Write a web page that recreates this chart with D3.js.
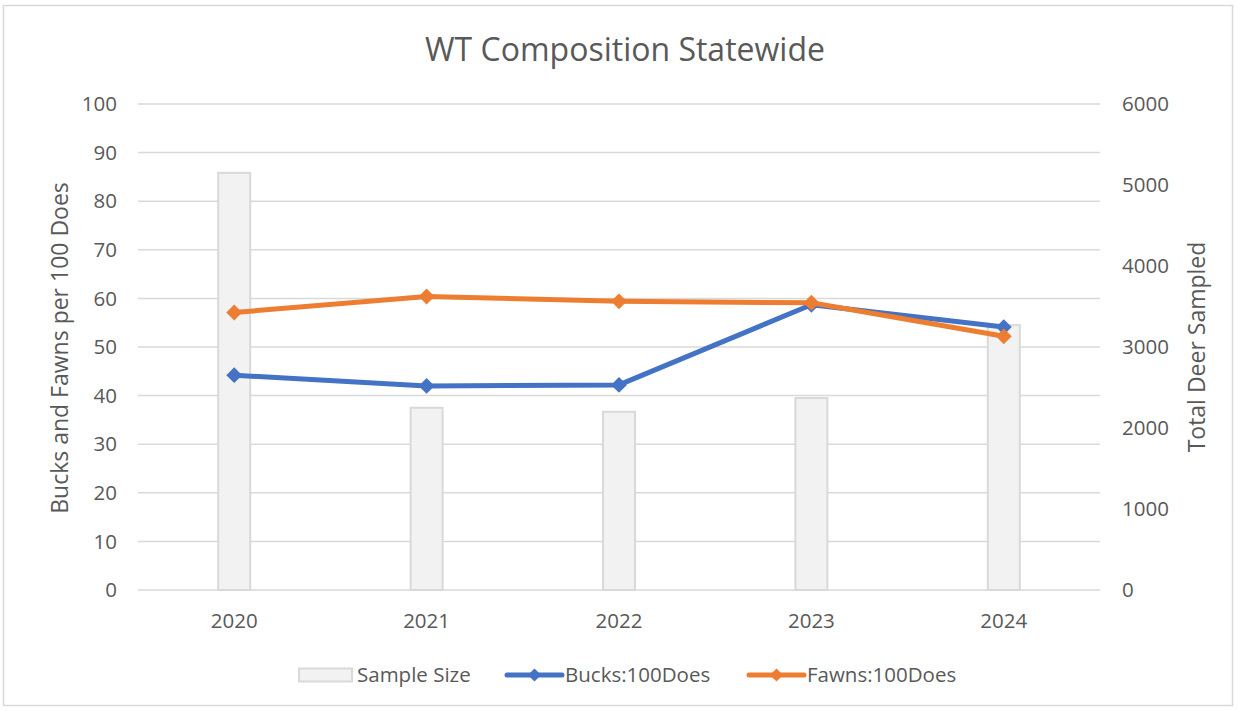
<!DOCTYPE html>
<html>
<head>
<meta charset="utf-8">
<script src="https://cdn.jsdelivr.net/npm/d3@7"></script>
<style>
  body { margin: 0; background: #fff; }
  text { font-family: "Open Sans", "Noto Sans", sans-serif; fill: #595959; }
</style>
</head>
<body>
<script>
const years = ["2020", "2021", "2022", "2023", "2024"]
const sampleSize = [5150, 2250, 2200, 2370, 3270]
const bucks = [44.2, 42.0, 42.2, 58.7, 54.1]
const fawns = [57.1, 60.4, 59.4, 59.1, 52.2]
const leftTicks = [0, 10, 20, 30, 40, 50, 60, 70, 80, 90, 100]
const rightTicks = [0, 1000, 2000, 3000, 4000, 5000, 6000]

const dims = { w: 1237, h: 711, pl: 138, pr: 1100, pt: 104, pb: 590 }
const tickFont = 20.5

const svg = d3.select("body").append("svg")
  .attr("width", dims.w)
  .attr("height", dims.h)

// chart frame
svg.append("rect")
  .attr("x", 3.5).attr("y", 5.5)
  .attr("width", 1229).attr("height", 700)
  .attr("fill", "#fff")
  .attr("stroke", "#d9d9d9")
  .attr("stroke-width", 1.5)

const xScale = d3.scaleBand().domain(years).range([dims.pl, dims.pr])
const yLeft = d3.scaleLinear().domain([0, 100]).range([dims.pb, dims.pt])
const yRight = d3.scaleLinear().domain([0, 6000]).range([dims.pb, dims.pt])

// gridlines
svg.append("g")
  .selectAll("line")
  .data(leftTicks)
  .enter()
  .append("line")
  .attr("x1", dims.pl).attr("x2", dims.pr)
  .attr("y1", d => yLeft(d)).attr("y2", d => yLeft(d))
  .attr("stroke", "#d9d9d9")
  .attr("stroke-width", 1.5)

// left axis labels
svg.append("g")
  .selectAll("text")
  .data(leftTicks)
  .enter()
  .append("text")
  .attr("x", 117)
  .attr("y", d => yLeft(d))
  .attr("dy", "0.35em")
  .attr("text-anchor", "end")
  .attr("font-size", tickFont)
  .text(d => d)

// right axis labels
svg.append("g")
  .selectAll("text")
  .data(rightTicks)
  .enter()
  .append("text")
  .attr("x", 1122)
  .attr("y", d => yRight(d))
  .attr("dy", "0.35em")
  .attr("font-size", tickFont)
  .text(d => d)

// x labels
svg.append("g")
  .selectAll("text")
  .data(years)
  .enter()
  .append("text")
  .attr("x", d => xScale(d) + xScale.bandwidth() / 2)
  .attr("y", 621)
  .attr("dy", "0.35em")
  .attr("text-anchor", "middle")
  .attr("font-size", tickFont)
  .text(d => d)

// bars (right axis)
const barW = 32
svg.append("g")
  .selectAll("rect")
  .data(years)
  .enter()
  .append("rect")
  .attr("x", d => xScale(d) + xScale.bandwidth() / 2 - barW / 2)
  .attr("y", (d, i) => yRight(sampleSize[i]))
  .attr("width", barW)
  .attr("height", (d, i) => dims.pb - yRight(sampleSize[i]))
  .attr("fill", "#f2f2f2")
  .attr("stroke", "#d9d9d9")
  .attr("stroke-width", 2)

const cx = d => xScale(d) + xScale.bandwidth() / 2
const diamond = d3.symbol().type(d3.symbolDiamond2).size(160)

const drawSeries = (vals, color) => {
  const line = d3.line()
    .x((d, i) => cx(years[i]))
    .y(d => yLeft(d))
  svg.append("path")
    .datum(vals)
    .attr("d", line)
    .attr("fill", "none")
    .attr("stroke", color)
    .attr("stroke-width", 5)
    .attr("stroke-linejoin", "round")
  svg.append("g")
    .selectAll("path")
    .data(vals)
    .enter()
    .append("path")
    .attr("d", diamond)
    .attr("transform", (d, i) => `translate(${cx(years[i])}, ${yLeft(d)})`)
    .attr("fill", color)
}
drawSeries(bucks, "#4472c4")
drawSeries(fawns, "#ed7d31")

// title
svg.append("text")
  .attr("x", 625)
  .attr("y", 50)
  .attr("dy", "0.35em")
  .attr("text-anchor", "middle")
  .attr("font-size", 32)
  .text("WT Composition Statewide")

// axis titles
svg.append("text")
  .attr("transform", `translate(60, 348) rotate(-90)`)
  .attr("dy", "0.35em")
  .attr("text-anchor", "middle")
  .attr("font-size", 23)
  .text("Bucks and Fawns per 100 Does")

svg.append("text")
  .attr("transform", `translate(1197, 347) rotate(-90)`)
  .attr("dy", "0.35em")
  .attr("text-anchor", "middle")
  .attr("font-size", 23)
  .text("Total Deer Sampled")

// legend
const legend = svg.append("g").attr("transform", "translate(0, 675)")
legend.append("rect")
  .attr("x", 299).attr("y", -6.5)
  .attr("width", 53).attr("height", 13)
  .attr("fill", "#f2f2f2")
  .attr("stroke", "#d9d9d9")
  .attr("stroke-width", 2)
legend.append("text")
  .attr("x", 357).attr("dy", "0.35em").attr("font-size", tickFont)
  .text("Sample Size")

const legendLine = (x, color, label) => {
  legend.append("line")
    .attr("x1", x).attr("x2", x + 55)
    .attr("stroke", color).attr("stroke-width", 5)
    .attr("stroke-linecap", "round")
  legend.append("path")
    .attr("d", d3.symbol().type(d3.symbolDiamond2).size(110))
    .attr("transform", `translate(${x + 27.5}, 0)`)
    .attr("fill", color)
  legend.append("text")
    .attr("x", x + 58).attr("dy", "0.35em").attr("font-size", tickFont)
    .text(label)
}
legendLine(507, "#4472c4", "Bucks:100Does")
legendLine(749, "#ed7d31", "Fawns:100Does")
</script>
</body>
</html>
